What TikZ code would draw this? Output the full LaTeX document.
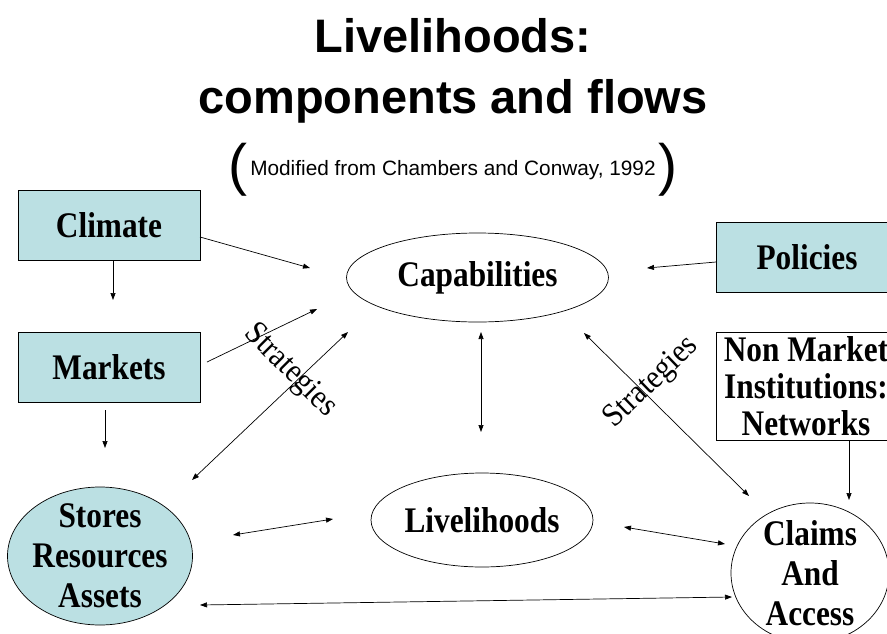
\documentclass[tikz,border=0pt]{standalone}
\usepackage{fontspec}
\setmainfont{Liberation Serif}
\newfontfamily\boxfont[FakeStretch=0.87]{Liberation Serif}
\newfontfamily\stratfont[FakeStretch=0.9]{Liberation Serif}
\newfontfamily\arialfont{Liberation Sans}
\usetikzlibrary{shapes.geometric,arrows.meta}
\definecolor{boxcyan}{HTML}{BBE0E3}
\tikzset{
  tip/.tip={Triangle[length=7pt,width=5pt]},
  arr/.style={-tip, line width=0.7pt},
  darr/.style={tip-tip, line width=0.7pt},
  bfont/.style={font=\boxfont\bfseries\fontsize{36}{40}\selectfont},
  cbox/.style={draw, line width=0.7pt, fill=boxcyan, minimum width=182pt, minimum height=70pt, inner sep=0pt, bfont, align=center},
  wbox/.style={draw, line width=0.7pt, fill=white, minimum width=180pt, minimum height=108pt, inner sep=0pt, align=center, font=\boxfont\bfseries\fontsize{36}{37}\selectfont},
  ell/.style={draw, ellipse, line width=0.7pt, inner sep=0pt, bfont, align=center},
  strat/.style={font=\stratfont\fontsize{33}{33}\selectfont, inner sep=0pt},
  ttl/.style={font=\arialfont\bfseries\fontsize{47}{47}\selectfont, anchor=base, inner sep=0pt},
}
\begin{document}
\begin{tikzpicture}[x=1pt,y=-1pt]
\clip (0,0) rectangle (887,633);
\fill[white] (0,0) rectangle (887,633);

% titles
\node[ttl] (t1) at (453,52) {Livelihoods:};
\node[ttl] (t2) at (453,113) {components and flows};
\node[font=\arialfont\fontsize{20.8}{21}\selectfont, anchor=base, inner sep=0pt] (sub) at (453,175) {Modified from Chambers and Conway, 1992};
\node[font=\arialfont\fontsize{57}{57}\selectfont, anchor=base, inner sep=0pt] (lp) at (238,184) {(};
\node[font=\arialfont\fontsize{57}{57}\selectfont, anchor=base, inner sep=0pt] (rp) at (668,184) {)};

% boxes
\node[cbox] (climate) at (109,225.5) {Climate};
\node[cbox] (markets) at (109,367) {Markets};
\node[cbox] (policies) at (807,257.5) {Policies};
\node[wbox] (nonmarket) at (806,386) {Non Market\\Institutions:\\Networks};

% ellipses
\node[ell, minimum width=262pt, minimum height=89pt] (cap) at (477.5,277.5) {Capabilities};
\node[ell, minimum width=222pt, minimum height=94pt] (live) at (482,520) {Livelihoods};
\node[ell, fill=boxcyan, minimum width=185pt, minimum height=138pt,
      label={[bfont, align=center]center:Stores\\Resources\\Assets}] (stores) at (100,556) {};
\node[ell, fill=white, minimum width=158pt, minimum height=140pt,
      label={[bfont, align=center]center:Claims\\And\\Access}] (claims) at (810,573) {};

% strategies labels
\node[strat, rotate=-45] (s1) at (290,371) {Strategies};
\node[strat, rotate=44] (s2) at (652,383) {Strategies};

% arrow end points
\coordinate (c1) at (200,237);   \coordinate (c2) at (310,268);
\coordinate (c3) at (113,261);   \coordinate (c4) at (113,300);
\coordinate (m1) at (207,362);   \coordinate (m2) at (317,309);
\coordinate (m3) at (105,410);   \coordinate (m4) at (105,448);
\coordinate (d1) at (192,480);   \coordinate (d2) at (348,332);
\coordinate (p1) at (716,262);   \coordinate (p2) at (647,268);
\coordinate (v1) at (481,332);   \coordinate (v2) at (481,432);
\coordinate (e1) at (584,333);   \coordinate (e2) at (749,496);
\coordinate (n1) at (849,440);   \coordinate (n2) at (849,500);
\coordinate (h1) at (233,535);   \coordinate (h2) at (333,519);
\coordinate (k1) at (624,527);   \coordinate (k2) at (725,544);
\coordinate (b1) at (200,605);   \coordinate (b2) at (732,597);

\draw[arr] (c1) -- (c2);
\draw[arr] (c3) -- (c4);
\draw[arr] (m1) -- (m2);
\draw[arr] (m3) -- (m4);
\draw[darr] (d1) -- (d2);
\draw[arr] (p1) -- (p2);
\draw[darr] (v1) -- (v2);
\draw[darr] (e1) -- (e2);
\draw[arr] (n1) -- (n2);
\draw[darr] (h1) -- (h2);
\draw[darr] (k1) -- (k2);
\draw[darr] (b1) -- (b2);
\end{tikzpicture}
\end{document}
